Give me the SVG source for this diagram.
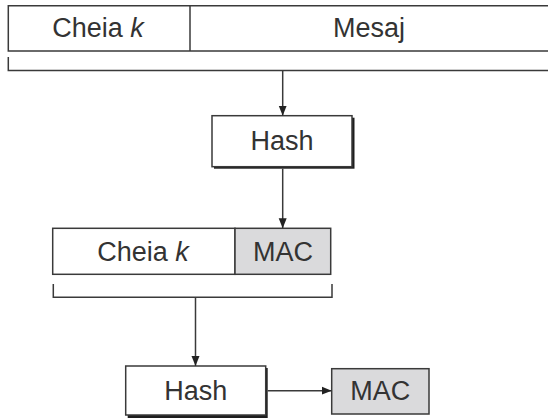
<svg xmlns="http://www.w3.org/2000/svg" width="548" height="418" viewBox="0 0 548 418">
<style>
.box{fill:#fff;stroke:#3a3a3a;stroke-width:1.5}
.gray{fill:#dadadc;stroke:#3a3a3a;stroke-width:1.5}
.shadow{fill:#1e1e1e}
.ln{fill:none;stroke:#3a3a3a;stroke-width:1.5}
.t{font-family:"Liberation Sans",Arial,sans-serif;font-size:27px;fill:#333;text-anchor:middle}
</style>
<defs>
<marker id="ah" viewBox="0 0 10 10" refX="10" refY="5" markerWidth="10" markerHeight="10" markerUnits="userSpaceOnUse" orient="auto">
<path d="M0,1 L10,5 L0,9 Z" fill="#222"/>
</marker>
</defs>
<g id="input1">
<path class="ln" d="M548,5.7 H8.3 V51 H548"/>
<line class="ln" x1="190" y1="5.7" x2="190" y2="51"/>
<text class="t" x="98" y="36.5">Cheia <tspan font-style="italic">k</tspan></text>
<text class="t" x="369" y="36.5">Mesaj</text>
<path class="ln" d="M8.3,57 V70.5 H548"/>
</g>
<g id="hash1">
<rect class="shadow" x="214" y="117.7" width="140.5" height="51"/>
<rect class="box" x="212" y="115.7" width="140" height="51"/>
<text class="t" x="282" y="149.5">Hash</text>
</g>
<g id="input2">
<rect class="box" x="52.7" y="228.3" width="182.3" height="46"/>
<rect class="gray" x="235" y="228.3" width="95.7" height="46"/>
<text class="t" x="143" y="260.5">Cheia <tspan font-style="italic">k</tspan></text>
<text class="t" x="283" y="260.5">MAC</text>
<path class="ln" d="M53.3,284 V297.3 H332 V284"/>
</g>
<g id="hash2">
<rect class="shadow" x="127.7" y="368" width="140" height="50"/>
<rect class="box" x="125.7" y="366" width="140" height="49"/>
<text class="t" x="195.7" y="399.5">Hash</text>
</g>
<g id="mac">
<rect class="gray" x="331.7" y="368.7" width="97.3" height="45.3"/>
<text class="t" x="380.3" y="400">MAC</text>
</g>
<g id="connectors">
<line class="ln" x1="282.7" y1="70.5" x2="282.7" y2="115.7" marker-end="url(#ah)"/>
<line class="ln" x1="282.7" y1="168.7" x2="282.7" y2="228.3" marker-end="url(#ah)"/>
<line class="ln" x1="195.5" y1="297.3" x2="195.5" y2="366" marker-end="url(#ah)"/>
<line class="ln" x1="267.7" y1="390.7" x2="331.7" y2="390.7" marker-end="url(#ah)"/>
</g>
</svg>
